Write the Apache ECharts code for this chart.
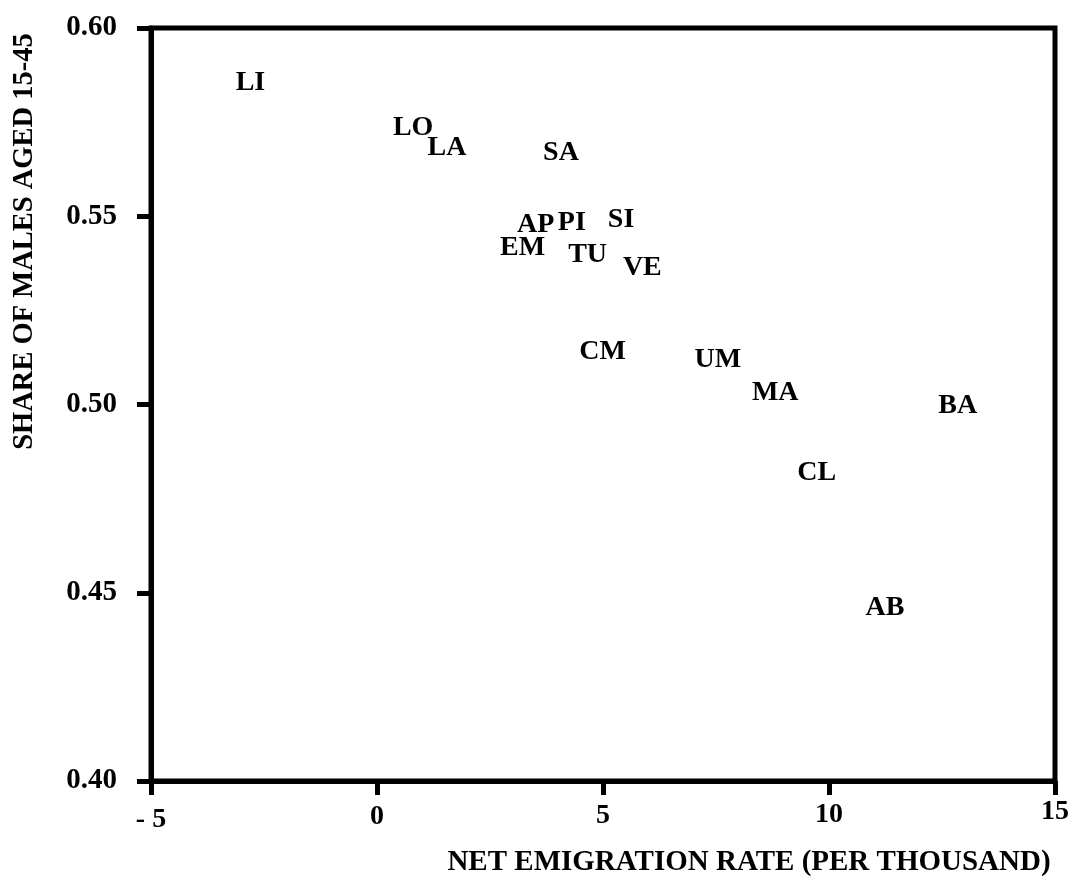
<!DOCTYPE html>
<html>
<head>
<meta charset="utf-8">
<title>Share of males aged 15-45 vs net emigration rate</title>
<script src="https://cdn.jsdelivr.net/npm/echarts@6/dist/echarts.min.js"></script>
<style>
  html, body { margin: 0; padding: 0; background: #fff; }
  #chart { width: 1077px; height: 882px; }
</style>
</head>
<body>
<div id="chart"></div>
<script>
// Regions (abbreviations) with their net emigration rate and share of males aged 15-45
const regions = ['LI', 'LO', 'LA', 'SA', 'AP', 'PI', 'SI', 'EM', 'TU', 'VE', 'CM', 'UM', 'MA', 'BA', 'CL', 'AB'];
const emigrationRate = [-2.80, 0.80, 1.55, 4.07, 3.51, 4.31, 5.40, 3.22, 4.66, 5.87, 4.99, 7.54, 8.81, 12.85, 9.73, 11.24];
const maleShare = [0.5854, 0.5736, 0.5683, 0.5668, 0.5477, 0.5482, 0.5490, 0.5416, 0.5397, 0.5363, 0.5141, 0.5119, 0.5031, 0.4996, 0.4818, 0.4459];

// Axis ticks
const xTicks = [-5, 0, 5, 10, 15];
const yTicks = [0.40, 0.45, 0.50, 0.55, 0.60];

const FONT = "'Liberation Serif', 'Times New Roman', serif";

// Per-tick rich style keys for the x labels (each label sits a little lower toward the left)
const xRichKey = v => (v < 0 ? 'n' : 'p') + Math.abs(v);
const xRich = {};
const xDrop = { '-5': 16, '0': 10, '5': 8, '10': 5, '15': 0 };
xTicks.forEach(v => {
  xRich[xRichKey(v)] = {
    fontFamily: FONT, fontWeight: 'bold', fontSize: 28, lineHeight: 28,
    color: '#000', padding: [xDrop[String(v)], 0, 0, 0]
  };
});

const points = regions.map((name, i) => ({ name: name, value: [emigrationRate[i], maleShare[i]] }));

const chart = echarts.init(document.getElementById('chart'), null, { renderer: 'canvas' });
chart.setOption({
  backgroundColor: '#fff',
  animation: false,
  grid: {
    left: 151, right: 22, top: 28, bottom: 101,
    show: true, borderColor: '#000', borderWidth: 5, backgroundColor: 'transparent'
  },
  xAxis: {
    type: 'value',
    min: xTicks[0], max: xTicks[xTicks.length - 1], interval: 5,
    name: 'NET EMIGRATION RATE (PER THOUSAND)',
    nameLocation: 'middle',
    nameGap: 67,
    nameTextStyle: {
      fontFamily: FONT, fontWeight: 'bold', fontSize: 29, color: '#000',
      padding: [0, 0, 0, 292]
    },
    axisLine: { show: true, onZero: false, lineStyle: { color: '#000', width: 5 } },
    axisTick: { show: true, inside: false, length: 14, lineStyle: { color: '#000', width: 5 } },
    splitLine: { show: false },
    axisLabel: {
      margin: 17,
      formatter: v => '{' + xRichKey(v) + '|' + (v < 0 ? '- ' + Math.abs(v) : String(v)) + '}',
      rich: xRich
    }
  },
  yAxis: {
    type: 'value',
    min: yTicks[0], max: yTicks[yTicks.length - 1], interval: 0.05,
    name: 'SHARE OF MALES AGED 15-45',
    nameLocation: 'middle',
    nameRotate: 90,
    nameGap: 112,
    nameTextStyle: {
      fontFamily: FONT, fontWeight: 'bold', fontSize: 28.5, color: '#000',
      padding: [0, 0, 0, 326]
    },
    axisLine: { show: true, onZero: false, lineStyle: { color: '#000', width: 5 } },
    axisTick: { show: true, inside: false, length: 14, lineStyle: { color: '#000', width: 5 } },
    splitLine: { show: false },
    axisLabel: {
      margin: 34,
      fontFamily: FONT, fontWeight: 'bold', fontSize: 29, color: '#000',
      formatter: v => v.toFixed(2)
    }
  },
  series: [{
    type: 'scatter',
    data: points,
    symbol: 'circle',
    symbolSize: 0,
    itemStyle: { color: '#000', opacity: 1 },
    label: {
      show: true,
      position: 'inside',
      formatter: p => p.name,
      fontFamily: FONT, fontWeight: 'bold', fontSize: 28,
      color: '#000', opacity: 1, textBorderWidth: 0
    },
    emphasis: { disabled: true }
  }]
});
</script>
</body>
</html>
